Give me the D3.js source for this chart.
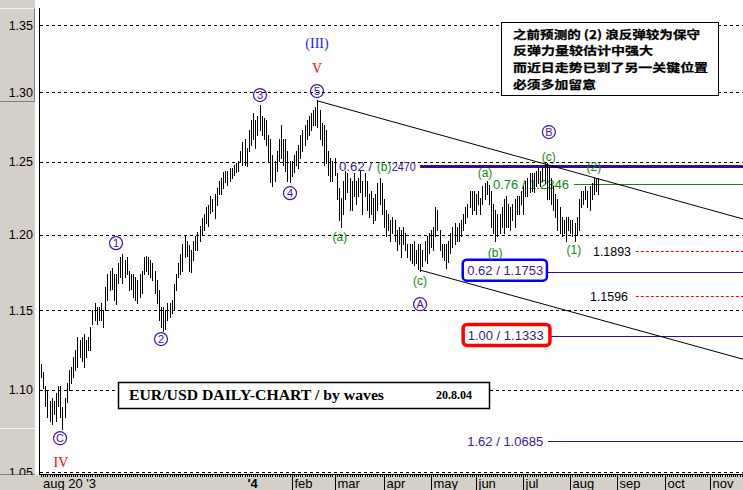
<!DOCTYPE html>
<html><head><meta charset="utf-8">
<script src="https://cdn.jsdelivr.net/npm/d3@7"></script>
<style>body{margin:0;background:#fff}svg{display:block}</style>
</head><body>
<svg id="c" width="743" height="490"></svg>
<script>
// ---- DATA ----
const highs = [1.116,1.111,1.102,1.099,1.093,1.095,1.093,1.098,1.102,1.102,1.089,1.095,1.104,1.112,1.114,1.120,1.125,1.133,1.131,1.133,
1.135,1.131,1.133,1.139,1.150,1.155,1.152,1.152,1.155,1.150,1.165,1.174,1.176,1.178,1.174,1.174,1.181,1.185,1.187,1.183,
1.185,1.176,1.174,1.174,1.172,1.170,1.174,1.176,1.185,1.186,1.185,1.183,1.181,1.176,1.170,1.163,1.152,1.152,1.150,1.155,
1.155,1.157,1.167,1.174,1.181,1.187,1.194,1.199,1.196,1.193,1.190,1.196,1.199,1.202,1.206,1.211,1.214,1.219,1.220,1.226,
1.224,1.228,1.232,1.237,1.239,1.243,1.244,1.244,1.246,1.246,1.248,1.249,1.251,1.258,1.264,1.266,1.260,1.273,1.280,1.285,
1.280,1.283,1.291,1.283,1.281,1.280,1.269,1.266,1.255,1.251,1.258,1.266,1.276,1.266,1.266,1.258,1.251,1.251,1.255,1.258,
1.262,1.269,1.273,1.276,1.280,1.283,1.285,1.287,1.289,1.294,1.287,1.278,1.276,1.273,1.258,1.253,1.251,1.253,1.242,1.232,
1.225,1.237,1.244,1.242,1.239,1.237,1.242,1.237,1.239,1.244,1.237,1.242,1.237,1.228,1.230,1.225,1.228,1.235,1.239,1.235,
1.224,1.217,1.214,1.210,1.212,1.210,1.203,1.205,1.203,1.205,1.201,1.194,1.194,1.194,1.196,1.190,1.194,1.194,1.190,1.196,
1.199,1.201,1.203,1.205,1.219,1.217,1.203,1.194,1.194,1.194,1.196,1.201,1.205,1.208,1.205,1.208,1.210,1.214,1.219,1.221,
1.230,1.230,1.230,1.228,1.230,1.225,1.233,1.235,1.237,1.234,1.230,1.221,1.217,1.214,1.214,1.219,1.224,1.226,1.221,1.219,
1.221,1.224,1.226,1.226,1.230,1.233,1.237,1.239,1.242,1.242,1.242,1.244,1.246,1.244,1.246,1.249,1.249,1.248,1.239,1.233,
1.228,1.224,1.219,1.212,1.210,1.212,1.212,1.210,1.210,1.208,1.212,1.224,1.230,1.230,1.233,1.230,1.233,1.235,1.239,1.239,
1.239];
const lows = [1.108,1.101,1.090,1.083,1.081,1.079,1.085,1.081,1.090,1.083,1.076,1.083,1.092,1.100,1.104,1.108,1.112,1.114,1.120,1.118,
1.114,1.120,1.125,1.125,1.141,1.144,1.141,1.144,1.144,1.139,1.150,1.157,1.163,1.164,1.157,1.154,1.168,1.172,1.168,1.172,
1.174,1.163,1.164,1.159,1.157,1.155,1.159,1.161,1.174,1.176,1.174,1.172,1.170,1.161,1.155,1.144,1.139,1.137,1.138,1.144,
1.146,1.148,1.150,1.163,1.172,1.174,1.176,1.185,1.186,1.176,1.175,1.183,1.190,1.190,1.196,1.200,1.203,1.208,1.206,1.215,
1.216,1.211,1.220,1.228,1.228,1.232,1.236,1.234,1.237,1.239,1.241,1.243,1.244,1.250,1.248,1.248,1.247,1.258,1.262,1.266,
1.260,1.269,1.273,1.269,1.266,1.262,1.251,1.236,1.233,1.237,1.244,1.251,1.253,1.248,1.244,1.237,1.236,1.240,1.243,1.248,
1.246,1.253,1.258,1.262,1.266,1.269,1.273,1.276,1.276,1.275,1.266,1.262,1.248,1.249,1.241,1.237,1.237,1.241,1.224,1.210,
1.205,1.214,1.224,1.229,1.217,1.217,1.226,1.221,1.226,1.229,1.214,1.226,1.217,1.212,1.214,1.208,1.210,1.217,1.221,1.214,
1.205,1.199,1.203,1.196,1.201,1.196,1.190,1.194,1.185,1.194,1.190,1.185,1.183,1.181,1.180,1.181,1.177,1.176,1.179,1.183,
1.181,1.188,1.192,1.190,1.199,1.203,1.190,1.185,1.183,1.178,1.182,1.188,1.192,1.194,1.196,1.196,1.199,1.203,1.208,1.212,
1.219,1.214,1.217,1.214,1.221,1.214,1.221,1.224,1.228,1.221,1.205,1.201,1.196,1.199,1.201,1.205,1.201,1.205,1.205,1.203,
1.210,1.205,1.214,1.214,1.221,1.214,1.226,1.226,1.229,1.230,1.229,1.233,1.235,1.233,1.237,1.235,1.224,1.224,1.221,1.217,
1.212,1.203,1.201,1.199,1.201,1.196,1.203,1.201,1.199,1.196,1.200,1.203,1.219,1.221,1.224,1.219,1.217,1.224,1.228,1.230,
1.228];
const yTicks = [1.05, 1.10, 1.15, 1.20, 1.25, 1.30, 1.35];
const firstLabel = "aug 20 '3";
const monthLabels = ["'4","feb","mar","apr","may","jun","jul","aug","sep","oct","nov"];
const monthStartIdx = [95,117,137,160,182,203,225,247,269,291,312];
// trend channel: [startIdx, startPrice, endIdx, endPrice]
const upperTrend = [129.4, 1.2935, 327.6, 1.2106];
const lowerTrend = [177.0, 1.1763, 327.6, 1.1189];
// Fibonacci targets
const fibLabels = ["0.62 / 1.2470","0.76 / 1.2346","0.62 / 1.1753","1.00 / 1.1333","1.62 / 1.0685"];
const fibValues = [1.2470, 1.2346, 1.1753, 1.1333, 1.0685];
const fibTextIdx = [139.1, 210.9, 198.9, 199.1, 198.9];
const fibLineIdx = [176.9, 248.7, 236.1, 237.5, 236.6];
const supportLabels = ["1.1893","1.1596"];
const supportValues = [1.1893, 1.1596];
const supportTextIdx = [257.6, 256.2];
const supportLineIdx = 277.6;
// wave labels [text, idx, price]
const circleWaves = [["1",35.0,1.1943],["2",56.0,1.1316],["3",102.2,1.2979],["4",116.2,1.2283],["5",128.8,1.3008],
  ["A",176.9,1.1540],["B",237.0,1.2712],["C",8.9,1.0703]];
const greenWaves = [["(a)",139.5,1.1990],["(b)",160.1,1.2471],["(c)",176.9,1.1697],["(a)",207.2,1.2429],
  ["(b)",211.9,1.1883],["(c)",237.0,1.2542],["(1)",248.7,1.1903],["(2)",258.0,1.2471]];
const degreeWaves = [["(III)",128.8,1.3364,"#1c1cff"],["V",128.8,1.3178,"#ff0000"],["IV",9.3,1.0560,"#ff0000"]];
const titleText = "EUR/USD DAILY-CHART / by waves";
const dateText = "20.8.04";
const noteLines = ["之前预测的 (2) 浪反弹较为保守","反弹力量较估计中强大","而近日走势已到了另一关键位置","必须多加留意"];

// ---- CHART ----
const W = 743, H = 490;
const svg = d3.select("#c");
const x = d3.scaleLinear().domain([0, 327.6]).range([41, 743]);
const y = d3.scaleLog().domain([1.05, 1.35]).range([472.3, 25]);
const SANS = "'Liberation Sans', Arial, sans-serif";
const SERIF = "'Liberation Serif', 'Times New Roman', serif";
const PURPLE = "#4a12a6", FIBP = "#3c1a92", GREEN = "#118a11";
const py = v => Math.round(y(v)) + 0.5;
const px = i => Math.round(x(i)) + 0.5;

svg.append("rect").attr("width", W).attr("height", H).attr("fill", "#fdfefd");

// left panel
svg.append("rect").attr("x", 0).attr("y", 0).attr("width", 35).attr("height", H).attr("fill", "#d4d0c8");
svg.append("path").attr("d", "M0,8.5H34.5V101.5H0").attr("fill", "none").attr("stroke", "#f4f4f4");
svg.append("path").attr("d", "M0,101.5H34.5V8.5").attr("fill", "none").attr("stroke", "#808080");
svg.append("line").attr("x1", 0).attr("x2", 35).attr("y1", 428.5).attr("y2", 428.5).attr("stroke", "#f4f4f4");
svg.append("line").attr("x1", 0).attr("x2", 35).attr("y1", 474.5).attr("y2", 474.5).attr("stroke", "#808080");

// grid
svg.append("g").selectAll("line").data(yTicks).join("line")
  .attr("x1", 40).attr("x2", W).attr("y1", d => py(d)).attr("y2", d => py(d))
  .attr("stroke", "#000").attr("stroke-dasharray", "3,3");
svg.append("g").selectAll("text").data(yTicks).join("text")
  .attr("x", 33).attr("y", d => y(d) + 4.5).attr("text-anchor", "end")
  .attr("font-family", SANS).attr("font-size", 12.5).attr("fill", "#000")
  .text(d => d.toFixed(2));

// fib levels (non-boxed texts drawn under bars)
const fib = fibLabels.map((t, k) => ({t, v: fibValues[k], ti: fibTextIdx[k], li: fibLineIdx[k], k}));
svg.append("g").selectAll("line").data(fib).join("line")
  .attr("x1", d => x(d.li)).attr("x2", W).attr("y1", d => py(d.v)).attr("y2", d => py(d.v))
  .attr("stroke", d => d.k === 1 ? GREEN : "#3a0a8c")
  .attr("stroke-width", d => d.k === 0 ? 3 : 1);
// first level: its "1." is hidden behind the green (b) label in the original
{
  const d = fib[0];
  svg.append("text").attr("x", x(d.ti)).attr("y", y(d.v) + 5)
    .attr("font-family", SANS).attr("font-size", 13).attr("fill", FIBP)
    .attr("textLength", 33).attr("lengthAdjust", "spacingAndGlyphs").text(d.t.slice(0, 6));
  svg.append("text").attr("x", x(163.7)).attr("y", y(d.v) + 5)
    .attr("font-family", SANS).attr("font-size", 13).attr("fill", FIBP)
    .attr("textLength", 24).attr("lengthAdjust", "spacingAndGlyphs").text(d.t.slice(9));
}
{
  const d = fib[1];
  svg.append("text").attr("x", x(d.ti)).attr("y", y(d.v) + 5)
    .attr("font-family", SANS).attr("font-size", 13).attr("fill", GREEN)
    .attr("textLength", 76).attr("lengthAdjust", "spacingAndGlyphs").text(d.t);
}
{
  const d = fib[4];
  svg.append("text").attr("x", x(d.ti)).attr("y", y(d.v) + 5)
    .attr("font-family", SANS).attr("font-size", 13).attr("fill", FIBP)
    .attr("textLength", 76).attr("lengthAdjust", "spacingAndGlyphs").text(d.t);
}

// support levels
const sup = supportLabels.map((t, k) => ({t, v: supportValues[k], ti: supportTextIdx[k]}));
svg.append("g").selectAll("line").data(sup).join("line")
  .attr("x1", x(supportLineIdx)).attr("x2", W).attr("y1", d => py(d.v)).attr("y2", d => py(d.v))
  .attr("stroke", "#ff0000").attr("stroke-dasharray", "3,2");
svg.append("g").selectAll("text").data(sup).join("text")
  .attr("x", d => x(d.ti)).attr("y", d => y(d.v) + 5)
  .attr("font-family", SANS).attr("font-size", 13).attr("fill", "#000")
  .attr("textLength", 38).attr("lengthAdjust", "spacingAndGlyphs").text(d => d.t);

// bars
const bars = highs.map((h, i) => ({i, h, l: lows[i]}));
svg.append("g").selectAll("line").data(bars).join("line")
  .attr("x1", d => px(d.i)).attr("x2", d => px(d.i))
  .attr("y1", d => Math.round(y(d.h))).attr("y2", d => Math.round(y(d.l)) + 1)
  .attr("stroke", "#000").attr("stroke-width", 1);

// trend channel
[upperTrend, lowerTrend].forEach(t => {
  svg.append("line").attr("x1", x(t[0])).attr("y1", y(t[1])).attr("x2", x(t[2])).attr("y2", y(t[3]))
    .attr("stroke", "#000").attr("stroke-width", 1);
});

// boxed fib texts
[[2, "#0000ff", 2.5], [3, "#ff0000", 3.5]].forEach(([k, col, sw]) => {
  const d = fib[k];
  const x0 = x(d.ti) - 4.5, x1 = x(d.li);
  const yc = y(d.v) - 1.5;
  svg.append("rect").attr("x", x0).attr("y", yc - 10.5).attr("width", x1 - x0).attr("height", 21)
    .attr("rx", 4).attr("fill", "#fff").attr("stroke", col).attr("stroke-width", sw);
  svg.append("text").attr("x", x(d.ti)).attr("y", y(d.v) + 3.5)
    .attr("font-family", SANS).attr("font-size", 13).attr("fill", FIBP)
    .attr("textLength", 76).attr("lengthAdjust", "spacingAndGlyphs").text(d.t);
});

// green wave labels
const gw = greenWaves.map(d => ({t: d[0], i: d[1], v: d[2]}));
svg.append("g").selectAll("text").data(gw).join("text")
  .attr("x", d => x(d.i)).attr("y", d => y(d.v) + 4.5).attr("text-anchor", "middle")
  .attr("font-family", SANS).attr("font-size", 12).attr("fill", GREEN).text(d => d.t);

// circled wave labels
const cw = circleWaves.map(d => ({t: d[0], i: d[1], v: d[2]}));
const cg = svg.append("g").selectAll("g").data(cw).join("g")
  .attr("transform", d => `translate(${x(d.i)},${y(d.v)})`);
cg.append("circle").attr("r", 6.5).attr("fill", "none").attr("stroke", PURPLE).attr("stroke-width", 1.2);
cg.append("text").attr("y", 4).attr("text-anchor", "middle").attr("font-family", SANS)
  .attr("font-size", 11).attr("fill", PURPLE).text(d => d.t);

// degree labels
svg.append("g").selectAll("text").data(degreeWaves).join("text")
  .attr("x", d => x(d[1])).attr("y", d => y(d[2]) + 5).attr("text-anchor", "middle")
  .attr("font-family", SERIF).attr("font-size", 14).attr("fill", d => d[3]).text(d => d[0]);

// title box
svg.append("rect").attr("x", 118.5).attr("y", 382.5).attr("width", 371).attr("height", 26)
  .attr("fill", "#fff").attr("stroke", "#000").attr("stroke-width", 1.5);
svg.append("text").attr("x", 129).attr("y", 400).attr("font-family", SERIF).attr("font-weight", "bold")
  .attr("font-size", 15.5).attr("textLength", 255).attr("lengthAdjust", "spacingAndGlyphs").text(titleText);
svg.append("text").attr("x", 436).attr("y", 399).attr("font-family", SERIF).attr("font-weight", "bold")
  .attr("font-size", 12.5).attr("textLength", 36).attr("lengthAdjust", "spacingAndGlyphs").text(dateText);

// note box
const noteWidths = [187, 140, 195, 83];
svg.append("rect").attr("x", 501.5).attr("y", 22.5).attr("width", 217).attr("height", 73)
  .attr("fill", "#fff").attr("stroke", "#000").attr("stroke-width", 1);
svg.append("g").selectAll("text").data(noteLines).join("text")
  .attr("x", 513).attr("y", (d, k) => 38.5 + k * 16.8)
  .attr("font-family", "'Noto Sans CJK SC', sans-serif").attr("font-weight", "bold")
  .attr("font-size", 11.5).attr("fill", "#000").attr("stroke", "#000").attr("stroke-width", 0.25)
  .attr("textLength", (d, k) => noteWidths[k]).attr("lengthAdjust", "spacingAndGlyphs")
  .text(d => d);

// left axis line
svg.append("line").attr("x1", 39.5).attr("x2", 39.5).attr("y1", 8).attr("y2", 475).attr("stroke", "#000");

// bottom time axis
svg.append("rect").attr("x", 0).attr("y", 475).attr("width", W).attr("height", 15).attr("fill", "#d4d0c8");
svg.append("line").attr("x1", 39).attr("x2", W).attr("y1", 474.5).attr("y2", 474.5).attr("stroke", "#000");
svg.append("g").selectAll("line").data(d3.range(0, 328)).join("line")
  .attr("x1", d => px(d)).attr("x2", d => px(d)).attr("y1", 475).attr("y2", 477)
  .attr("stroke", "#000");
svg.append("g").selectAll("line").data(monthStartIdx.slice(1)).join("line")
  .attr("x1", d => px(d)).attr("x2", d => px(d)).attr("y1", 475).attr("y2", H).attr("stroke", "#000");
svg.append("text").attr("x", x(0) + 2).attr("y", 488).attr("font-family", SANS).attr("font-size", 13)
  .text(firstLabel);
svg.append("g").selectAll("text").data(monthLabels).join("text")
  .attr("x", (d, k) => px(monthStartIdx[k]) + 2).attr("y", 488)
  .attr("font-family", SANS).attr("font-size", 13)
  .attr("font-weight", (d, k) => k === 0 ? "bold" : "normal").text(d => d);
</script>
</body></html>
